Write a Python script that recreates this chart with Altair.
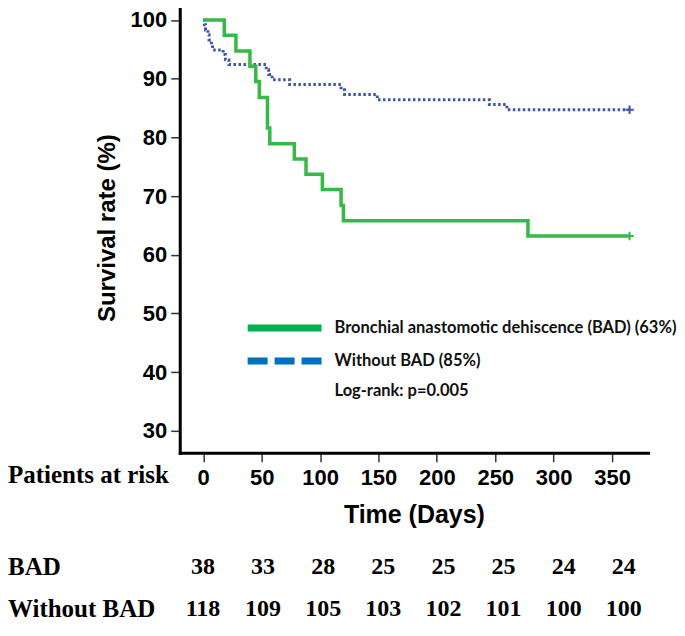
import altair as alt
import pandas as pd

# ---- Kaplan-Meier curves ----
bad_days = [0, 18, 28, 40, 45, 48, 55, 57, 78, 88, 102, 118, 120, 278, 365]
bad_surv = [100, 97.4, 94.7, 92.1, 89.5, 86.8, 81.6, 78.9, 76.3, 73.7, 71.1, 68.4, 65.8, 63.2, 63.2]

nobad_days = [0, 1, 2, 4, 5, 7, 8, 17, 19, 22, 54, 56, 59, 74, 118, 121, 149, 245, 260, 365]
nobad_surv = [100, 99.2, 98.3, 97.5, 96.6, 95.8, 94.9, 94.1, 93.2, 92.4, 91.5, 90.7, 89.8,
              89.0, 88.1, 87.3, 86.4, 85.6, 84.7, 84.7]

# ---- risk table ----
risk_times = [0, 50, 100, 150, 200, 250, 300, 350]
bad_risk = [38, 33, 28, 25, 25, 25, 24, 24]
nobad_risk = [118, 109, 105, 103, 102, 101, 100, 100]
groups = ["BAD", "Without BAD"]

x_ticks = [0, 50, 100, 150, 200, 250, 300, 350]
y_ticks = [30, 40, 50, 60, 70, 80, 90, 100]

legend_labels = ["Bronchial anastomotic dehiscence (BAD) (63%)", "Without BAD (85%)", "Log-rank: p=0.005"]

SANS = "Liberation Sans"
SERIF = "Liberation Serif"
LEG = "Lato"
GREEN = "#36b946"
BLUE = "#3d56ad"

bad_df = pd.DataFrame({"day": bad_days, "surv": bad_surv})
nobad_df = pd.DataFrame({"day": nobad_days, "surv": nobad_surv})
cens_df = pd.DataFrame({
    "day": [bad_days[-1], nobad_days[-1]],
    "surv": [bad_surv[-1], nobad_surv[-1]],
    "group": groups,
})
risk_df = pd.DataFrame({
    "day": risk_times + risk_times,
    "n": bad_risk + nobad_risk,
    "group": [groups[0]] * len(risk_times) + [groups[1]] * len(risk_times),
})
rows_df = pd.DataFrame({"group": groups})
one = pd.DataFrame({"a": [0]})

x_scale = alt.Scale(domain=[-20.1, 380.8], nice=False, zero=False)
y_scale = alt.Scale(domain=[26.26, 102.98], nice=False, zero=False)

x_axis = alt.Axis(values=x_ticks, title="Time (Days)", grid=False,
                  domainWidth=3, domainColor="black", domainCap="square",
                  tickColor="#333", tickWidth=1.5, tickSize=9,
                  labelFont=SANS, labelFontSize=22, labelFontWeight="bold", labelColor="black",
                  labelPadding=6, labelFlush=False,
                  titleFont=SANS, titleFontSize=25, titleFontWeight="bold", titleColor="black",
                  titlePadding=14)
y_axis = alt.Axis(values=y_ticks, title="Survival rate (%)", grid=False,
                  domainWidth=3, domainColor="black", domainCap="square",
                  tickColor="#333", tickWidth=1.5, tickSize=9,
                  labelFont=SANS, labelFontSize=22, labelFontWeight="bold", labelColor="black",
                  labelPadding=4,
                  titleFont=SANS, titleFontSize=24, titleFontWeight="bold", titleColor="black",
                  titlePadding=11)

blue_line = alt.Chart(nobad_df).mark_line(
    interpolate="step-after", color=BLUE, strokeWidth=3, strokeDash=[2.5, 2.5]
).encode(
    x=alt.X("day:Q", scale=x_scale, axis=x_axis),
    y=alt.Y("surv:Q", scale=y_scale, axis=y_axis),
)
green_line = alt.Chart(bad_df).mark_line(
    interpolate="step-after", color=GREEN, strokeWidth=3.5
).encode(
    x=alt.X("day:Q", scale=x_scale),
    y=alt.Y("surv:Q", scale=y_scale),
)
cens = alt.Chart(cens_df).mark_point(
    shape="M-1,0L1,0M0,-1L0,1", filled=False, size=70, strokeWidth=2, opacity=1
).encode(
    x=alt.X("day:Q", scale=x_scale),
    y=alt.Y("surv:Q", scale=y_scale),
    color=alt.Color("group:N", scale=alt.Scale(domain=groups, range=[GREEN, BLUE]), legend=None),
)

# manual legend
leg_green = alt.Chart(one).mark_rule(color="#00b050", strokeWidth=7, strokeCap="butt").encode(
    x=alt.value(68), x2=alt.value(142), y=alt.value(326))
leg_blue = alt.Chart(one).mark_rule(color="#0070c0", strokeWidth=7, strokeCap="butt",
                                    strokeDash=[20, 7]).encode(
    x=alt.value(68), x2=alt.value(142), y=alt.value(359))
leg_texts = [
    alt.Chart(one).mark_text(text=t, align="left", baseline="middle", font=LEG, fontSize=16.5,
                             fontWeight="bold", color="#111").encode(x=alt.value(155), y=alt.value(yy))
    for t, yy in zip(legend_labels, [326, 359, 389])
]

plot = alt.layer(blue_line, green_line, cens, leg_green, leg_blue, *leg_texts)

# risk table
tx_scale = alt.Scale(domain=[-19.3, 370.2], nice=False, zero=False)
ty_scale = alt.Scale(type="point", domain=groups, range=[565, 607], padding=0)

risk_nums = alt.Chart(risk_df).mark_text(
    font=SERIF, fontSize=24, fontWeight="bold", color="black", baseline="middle"
).encode(
    x=alt.X("day:Q", scale=tx_scale, axis=None),
    y=alt.Y("group:N", scale=ty_scale, axis=None),
    text="n:Q",
)
row_labels = alt.Chart(rows_df).mark_text(
    font=SERIF, fontSize=25, fontWeight="bold", color="black", align="left", baseline="middle"
).encode(
    x=alt.value(-172),
    y=alt.Y("group:N", scale=ty_scale, axis=None),
    text="group:N",
)
par = alt.Chart(one).mark_text(
    text="Patients at risk", font=SERIF, fontSize=25, fontWeight="bold", color="black",
    align="left", baseline="middle"
).encode(x=alt.value(-172), y=alt.value(473))

table = alt.layer(risk_nums, row_labels, par)

chart = alt.layer(plot, table).resolve_scale(x="independent", y="independent").properties(
    width=469, height=451,
    padding={"left": 0, "top": -6, "right": 0, "bottom": 0},
).configure_view(stroke=None)

chart.save("out.html", embed_options={"renderer": "svg", "actions": False})
